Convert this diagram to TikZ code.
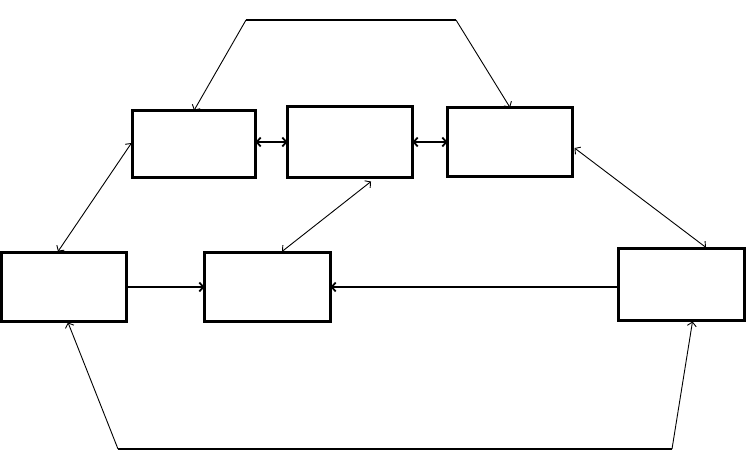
\documentclass[tikz,border=0pt]{standalone}
\usetikzlibrary{arrows.meta,calc}
\begin{document}
\begin{tikzpicture}[x=1pt,y=-1pt,
  box/.style={draw, line width=3pt, minimum width=#1, inner sep=0pt, outer sep=0pt},
  box/.default=125pt,
  tip/.style={arrows={-Straight Barb[length=4pt,width=9pt]}},
  dtip/.style={arrows={Straight Barb[length=4pt,width=9pt]-Straight Barb[length=4pt,width=9pt]}},
  thin line/.style={line width=0.9pt},
  mid line/.style={line width=1.8pt}]
\useasboundingbox (0,0) rectangle (751,454);
\node[box=123pt, minimum height=67pt] (A) at (194,144) {};
\node[box=125pt, minimum height=71pt] (B) at (350,142) {};
\node[box=125pt, minimum height=69pt] (C) at (510,142) {};
\node[box=125pt, minimum height=69pt] (D) at (64,287) {};
\node[box=126pt, minimum height=69pt] (E) at (267.5,287) {};
\node[box=126pt, minimum height=72pt] (F) at (681.5,284.5) {};
\coordinate (T1) at (246,20);
\coordinate (T2) at (456,20);
\coordinate (L1) at (118,449);
\coordinate (L2) at (672,449);
% top polyline
\draw[mid line] (T1) -- (T2);
\draw[thin line, tip] (T1) -- (A.north);
\draw[thin line, tip] (T2) -- (C.north);
% bottom polyline
\draw[mid line] (L1) -- (L2);
\draw[thin line, tip] (L1) -- ($(D.south)+(4,1)$);
\draw[thin line, tip] (L2) -- ($(F.south)+(11,1)$);
% short links
\draw[mid line, dtip] (B.west -| A.east) -- (B.west);
\draw[mid line, dtip] (B.east) -- (B.east -| C.west);
\draw[mid line, tip] (D.east) -- (D.east -| E.west);
\draw[mid line, tip] (F.west |- E.east) -- (E.east);
% diagonals
\draw[thin line, dtip] ($(A.west)+(-1,-1)$) -- ($(D.north)+(-6,-1)$);
\draw[thin line, dtip] ($(B.south)+(21,4)$) -- ($(E.north)+(14.5,-1)$);
\draw[thin line, dtip] ($(C.east)+(2,6)$) -- ($(F.north)+(24.5,-1)$);
\end{tikzpicture}
\end{document}
